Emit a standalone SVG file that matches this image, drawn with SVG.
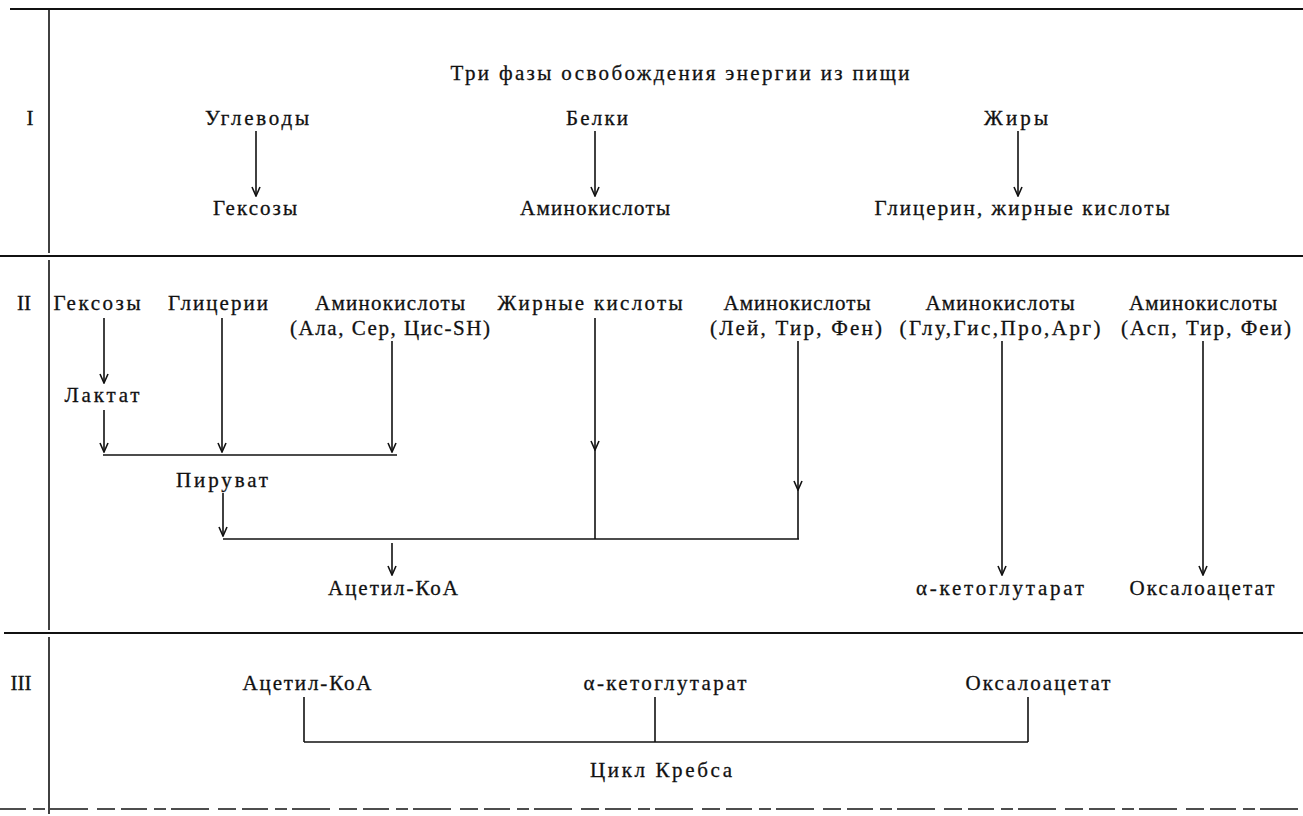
<svg xmlns="http://www.w3.org/2000/svg" width="1303" height="816" viewBox="0 0 1303 816">
<style>
text{font-family:"Liberation Serif","Times New Roman",serif;font-size:21px;fill:#111;stroke:#111;stroke-width:0.3;text-anchor:middle}
.ln{stroke:#111;stroke-width:1.6;fill:none}
.dv{stroke:#111;stroke-width:2.2;fill:none}
.ar{stroke:#111;stroke-width:1.6;fill:none;marker-end:url(#ah)}
</style>
<defs>
<marker id="ah" viewBox="-10 -5 11 10" refX="0" refY="0" markerWidth="11" markerHeight="10" markerUnits="userSpaceOnUse" orient="auto">
<path d="M-9,-4 L0,0 L-9,4" stroke="#111" stroke-width="1.6" fill="none"/>
</marker>
</defs>
<rect width="1303" height="816" fill="#fff"/>
<g id="frame">
<line class="dv" x1="10" y1="9" x2="1303" y2="9"/>
<line class="dv" x1="0" y1="256" x2="1303" y2="256"/>
<line class="dv" x1="4" y1="633" x2="1303" y2="633"/>
<line class="dv" x1="0" y1="809" x2="1303" y2="809" stroke-dasharray="26 7 12 5 38 9 18 6" stroke-width="1.4" opacity="0.75"/>
<line class="ln" x1="49" y1="10" x2="49" y2="253"/>
<line class="ln" x1="49" y1="260" x2="49" y2="630"/>
<line class="ln" x1="49" y1="637" x2="49" y2="814"/>
<text x="30" y="125">I</text>
<text x="24" y="310">II</text>
<text x="21" y="690">III</text>
</g>
<g id="title"><text x="680" y="80" textLength="459">Три фазы освобождения энергии из пищи</text></g>
<g id="n-uglevody"><text x="257" y="125" textLength="104">Углеводы</text></g>
<g id="n-belki"><text x="597" y="125" textLength="62">Белки</text></g>
<g id="n-zhiry"><text x="1016" y="125" textLength="64">Жиры</text></g>
<g id="n-geksozy1"><text x="255" y="215" textLength="84">Гексозы</text></g>
<g id="n-amino1"><text x="595" y="215" textLength="150">Аминокислоты</text></g>
<g id="n-glicerin1"><text x="1022" y="215" textLength="295">Глицерин, жирные кислоты</text></g>
<g id="n-geksozy2"><text x="97" y="310" textLength="87">Гексозы</text></g>
<g id="n-glicerii"><text x="218" y="310" textLength="100">Глицерии</text></g>
<g id="n-amino2"><text x="390" y="310" textLength="150">Аминокислоты</text><text x="390" y="335" textLength="200">(Ала, Сер, Цис-SH)</text></g>
<g id="n-zhirnye"><text x="590" y="310" textLength="185">Жирные кислоты</text></g>
<g id="n-amino3"><text x="797" y="310" textLength="147">Аминокислоты</text><text x="796" y="335" textLength="172">(Лей, Тир, Фен)</text></g>
<g id="n-amino4"><text x="1000" y="310" textLength="149">Аминокислоты</text><text x="1000" y="335" textLength="201">(Глу,Гис,Про,Арг)</text></g>
<g id="n-amino5"><text x="1203" y="310" textLength="148">Аминокислоты</text><text x="1206" y="335" textLength="170">(Асп, Тир, Феи)</text></g>
<g id="n-laktat"><text x="102" y="402" textLength="75">Лактат</text></g>
<g id="n-piruvat"><text x="222" y="487" textLength="92">Пируват</text></g>
<g id="n-acetil2"><text x="393" y="595" textLength="130">Ацетил-КоА</text></g>
<g id="n-keto2"><text x="1000" y="595" textLength="168">α-кетоглутарат</text></g>
<g id="n-oksalo2"><text x="1202" y="595" textLength="145">Оксалоацетат</text></g>
<g id="n-acetil3"><text x="307" y="690" textLength="129">Ацетил-КоА</text></g>
<g id="n-keto3"><text x="665" y="690" textLength="163">α-кетоглутарат</text></g>
<g id="n-oksalo3"><text x="1038" y="690" textLength="145">Оксалоацетат</text></g>
<g id="n-krebs"><text x="661" y="777" textLength="142">Цикл Кребса</text></g>
<g id="connectors">
<line class="ar" x1="256" y1="131" x2="256" y2="196"/>
<line class="ar" x1="595" y1="131" x2="595" y2="196"/>
<line class="ar" x1="1018" y1="131" x2="1018" y2="196"/>
<line class="ar" x1="104" y1="318" x2="104" y2="383"/>
<line class="ar" x1="104" y1="410" x2="104" y2="452"/>
<line class="ar" x1="222" y1="318" x2="222" y2="452"/>
<line class="ar" x1="392" y1="341" x2="392" y2="452"/>
<line class="ln" x1="103" y1="455" x2="397" y2="455"/>
<line class="ar" x1="223" y1="493" x2="223" y2="536"/>
<line class="ln" x1="223" y1="539" x2="799" y2="539"/>
<line class="ar" x1="595" y1="318" x2="595" y2="450"/>
<line class="ln" x1="595" y1="450" x2="595" y2="539"/>
<line class="ar" x1="798" y1="341" x2="798" y2="490"/>
<line class="ln" x1="798" y1="490" x2="798" y2="539"/>
<line class="ar" x1="392" y1="543" x2="392" y2="575"/>
<line class="ar" x1="1002" y1="341" x2="1002" y2="575"/>
<line class="ar" x1="1203" y1="341" x2="1203" y2="575"/>
<line class="ln" x1="304" y1="697" x2="304" y2="742"/>
<line class="ln" x1="655" y1="697" x2="655" y2="742"/>
<line class="ln" x1="1028" y1="697" x2="1028" y2="742"/>
<line class="ln" x1="304" y1="742" x2="1028" y2="742"/>
</g>
</svg>
